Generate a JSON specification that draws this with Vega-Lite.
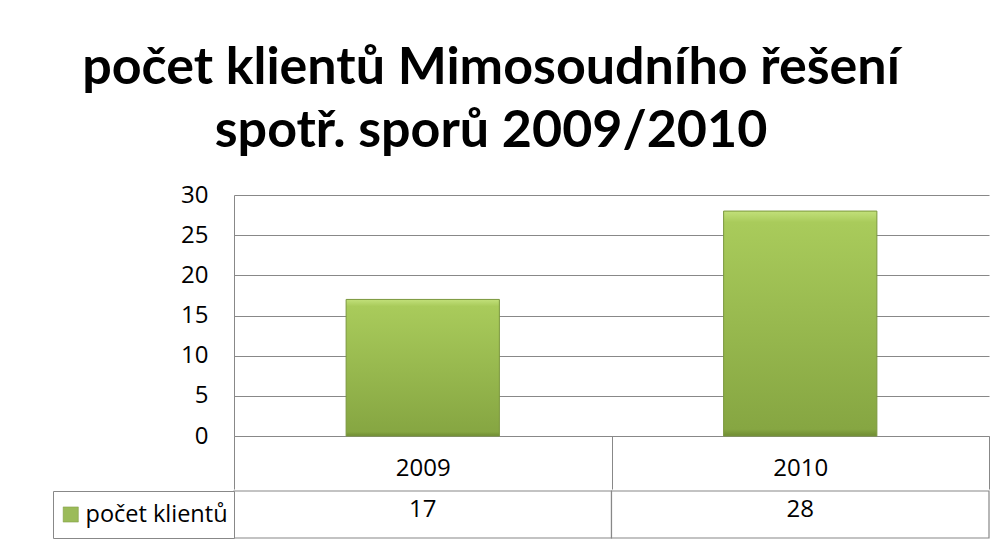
{
  "$schema": "https://vega.github.io/schema/vega-lite/v6.json",
  "background": "white",
  "padding": {"left": 52, "top": 42, "right": 16, "bottom": 6},
  "data": {"values": [
    {"year": "2009", "clients": 17},
    {"year": "2010", "clients": 28}
  ]},
  "title": {
    "text": ["počet klientů Mimosoudního řešení", "spotř. sporů 2009/2010"],
    "font": "Lato", "fontWeight": "bold", "fontSize": 52, "lineHeight": 63,
    "anchor": "middle", "color": "#000000", "offset": 25, "dx": -30
  },
  "spacing": 0,
  "resolve": {"scale": {"x": "independent", "y": "independent", "color": "independent"}, "legend": {"color": "independent"}},
  "vconcat": [
    {
      "width": 755,
      "height": 241,
      "mark": {
        "type": "bar",
        "width": {"band": 0.406},
        "color": {"x1": 0, "y1": 0, "x2": 0, "y2": 1, "gradient": "linear",
          "stops": [{"offset": 0, "color": "#c2e07a"}, {"offset": 0.05, "color": "#a9cb5b"}, {"offset": 0.97, "color": "#86a642"}, {"offset": 1, "color": "#6f8c33"}]},
        "stroke": "#7a973d", "strokeWidth": 1
      },
      "encoding": {
        "x": {"field": "year", "type": "nominal", "sort": null,
          "scale": {"paddingInner": 0, "paddingOuter": 0},
          "axis": {"title": null, "labelAngle": 0, "labelFont": "Open Sans", "labelFontSize": 24, "labelColor": "#000000",
            "domain": true, "domainColor": "#888888", "ticks": true, "tickBand": "extent", "tickSize": 53, "tickColor": "#888888",
            "labelPadding": -33, "grid": false}},
        "y": {"field": "clients", "type": "quantitative",
          "scale": {"domain": [0, 30], "nice": false},
          "axis": {"title": null, "values": [0, 5, 10, 15, 20, 25, 30], "labelFont": "Open Sans", "labelFontSize": 24, "labelColor": "#000000",
            "labelPadding": 26, "ticks": false, "domain": true, "domainColor": "#888888",
            "grid": true, "gridColor": "#888888", "gridOpacity": 1, "gridWidth": 1.2}}
      }
    },
    {
      "width": 755,
      "height": 47,
      "layer": [
        {
          "mark": {"type": "rect", "fill": "white", "stroke": "#888888", "strokeWidth": 1.2},
          "encoding": {
            "x": {"field": "year", "type": "nominal", "sort": null, "scale": {"paddingInner": 0, "paddingOuter": 0}, "axis": null}
          }
        },
        {
          "mark": {"type": "text", "font": "Open Sans", "fontSize": 24, "color": "#000000", "baseline": "middle", "dy": -5},
          "encoding": {
            "x": {"field": "year", "type": "nominal", "sort": null, "axis": null},
            "text": {"field": "clients", "type": "quantitative"}
          }
        },
        {
          "mark": {"type": "point", "shape": "square", "filled": true, "size": 0, "opacity": 1},
          "encoding": {
            "x": {"field": "year", "type": "nominal", "sort": null, "axis": null},
            "color": {"datum": "počet klientů", "type": "nominal", "scale": {"range": ["#9bbb59"]},
              "legend": {"title": null, "orient": "left", "offset": 0, "padding": 6, "clipHeight": 35, "strokeColor": "#888888", "fillColor": "white",
                "symbolType": "square", "symbolSize": 230, "symbolOpacity": 1, "symbolStrokeColor": "#7a973d", "symbolStrokeWidth": 0.5,
                "labelFont": "Open Sans", "labelFontSize": 23.5, "labelColor": "#000000", "labelOffset": 3, "labelLimit": 300}}
          }
        }
      ]
    }
  ],
  "config": {
    "view": {"stroke": null}
  }
}
